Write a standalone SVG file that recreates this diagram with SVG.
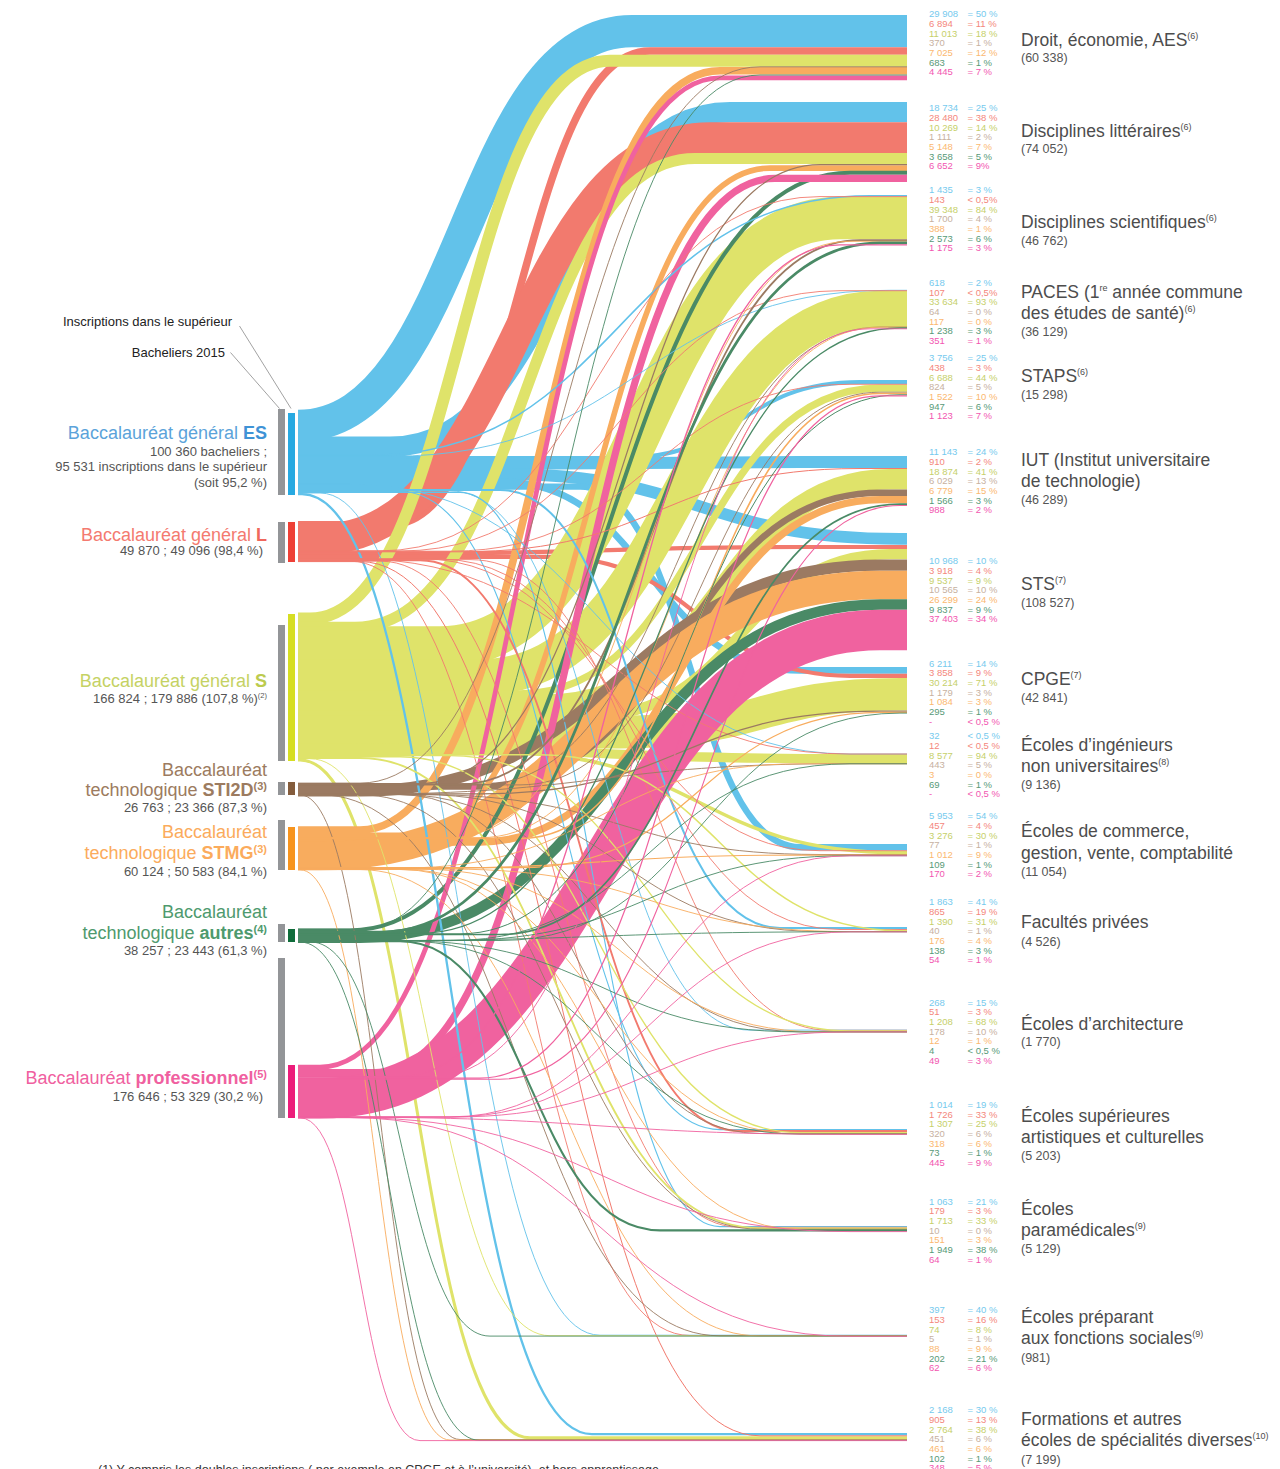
<svg xmlns="http://www.w3.org/2000/svg" width="1280" height="1469" viewBox="0 0 1280 1469">
<style>
.lk{fill:none;stroke-linecap:butt}
.es{stroke:#62c2ea}.l{stroke:#f27a6e}.s{stroke:#dfe36a}.st{stroke:#9b7a62}.sm{stroke:#f8ac5e}.au{stroke:#4a8a66}.pr{stroke:#f0629f}
.t{stroke-width:0.9}
text{font-family:"Liberation Sans",Arial,Helvetica,sans-serif}
.num{font-size:9.5px}
.c1{fill:#76caee}.c2{fill:#f4877c}.c3{fill:#c6d06a}.c4{fill:#c7b19f}.c5{fill:#fbb870}.c6{fill:#589a77}.c7{fill:#f256b0}
.dl{font-size:17.5px;fill:#4d4d4d}
.ds{font-size:12.5px;fill:#555}
.sl{font-size:18px;text-anchor:end}
.ss{font-size:13px;fill:#555;text-anchor:end}
.gb{fill:#939598}
.ld{stroke:#8a8a8a;stroke-width:0.8;fill:none}
</style>
<rect width="1280" height="1469" fill="#ffffff"/>
<g id="connectors" class="lk">
<path class="es" stroke-width="32.3" d="M298 425.8C465 425.8 465 31.2 632 31.2H907"/>
<path class="es" stroke-width="20.2" d="M298 446.7H390C560 446.7 560 112.1 730 112.1H907"/>
<path class="es" stroke-width="4.1" d="M298 458.1H620C740 458.1 740 382 860 382H907"/>
<path class="es" stroke-width="12" d="M298 464.5H400C600 464.5 600 462 800 462H907"/>
<path class="es" stroke-width="11.9" d="M298 474H500C700 474 700 538.9 900 538.9H907"/>
<path class="es" stroke-width="6.7" d="M298 481.4H500C650 481.4 650 670.4 800 670.4H907"/>
<path class="es" stroke-width="6.4" d="M298 486.6H580C690 486.6 690 847.2 800 847.2H907"/>
<path class="l" stroke-width="7.5" d="M298 524.8H390C520 524.8 520 51 650 51H907"/>
<path class="l" stroke-width="30.8" d="M298 539.2H320C515 539.2 515 137.6 710 137.6H907"/>
<path class="l" stroke-width="4.2" d="M298 553.7H400C600 553.7 600 547 800 547H907"/>
<path class="l" stroke-width="4.2" d="M298 556.9H550C700 556.9 700 675.8 850 675.8H907"/>
<path class="s" stroke-width="11.9" d="M298 618.5H310C460 618.5 460 60.7 610 60.7H907"/>
<path class="s" stroke-width="11.1" d="M298 627.2H355C525 627.2 525 158.5 695 158.5H907"/>
<path class="s" stroke-width="42.5" d="M298 647.5H440C640 647.5 640 218 840 218H907"/>
<path class="s" stroke-width="36.3" d="M298 677.3H480C680 677.3 680 308.9 880 308.9H907"/>
<path class="s" stroke-width="7.2" d="M298 693.8H520C700 693.8 700 388.1 880 388.1H907"/>
<path class="s" stroke-width="20.4" d="M298 704.2H550C720 704.2 720 479.2 890 479.2H907"/>
<path class="s" stroke-width="10.3" d="M298 715.8H590C740 715.8 740 554.2 890 554.2H907"/>
<path class="s" stroke-width="32.6" d="M298 732.1H620C760 732.1 760 694.2 900 694.2H907"/>
<path class="s" stroke-width="9.3" d="M298 747.9H350C600 747.9 600 758.7 850 758.7H907"/>
<path class="s" stroke-width="3.5" d="M298 752.8H500C700 752.8 700 852.7 900 852.7H907"/>
<path class="s" stroke-width="3" d="M298 759.9H300C415 759.9 415 1437.8 530 1437.8H907"/>
<path class="st" stroke-width="6.5" d="M298 786.6H480C680 786.6 680 492.7 880 492.7H907"/>
<path class="st" stroke-width="11.4" d="M298 790.9H360C620 790.9 620 565.1 880 565.1H907"/>
<path class="sm" stroke-width="7.6" d="M298 830H360C540 830 540 70.8 720 70.8H907"/>
<path class="sm" stroke-width="5.6" d="M298 835.2H410C590 835.2 590 168.1 770 168.1H907"/>
<path class="sm" stroke-width="7.3" d="M298 842H480C680 842 680 499.6 880 499.6H907"/>
<path class="sm" stroke-width="28.4" d="M298 856H320C600 856 600 585 880 585H907"/>
<path class="au" stroke-width="4" d="M298 930.4H350C600 930.4 600 172.8 850 172.8H907"/>
<path class="au" stroke-width="10.6" d="M298 937.6H360C620 937.6 620 604.5 880 604.5H907"/>
<path class="pr" stroke-width="4.8" d="M298 1067.2H320C520 1067.2 520 77.8 720 77.8H907"/>
<path class="pr" stroke-width="7.2" d="M298 1072.7H375C575 1072.7 575 178.4 775 178.4H907"/>
<path class="pr" stroke-width="40.4" d="M298 1098.2H320C600 1098.2 600 630 880 630H907"/>
<path class="es" stroke-width="1.55" d="M298 455.4H370C620 455.4 620 195.8 870 195.8H907"/>
<path class="es t" d="M298 456.3H390C640 456.3 640 290.3 890 290.3H907"/>
<path class="es t" d="M298 484.1H350C600 484.1 600 754 850 754H907"/>
<path class="es" stroke-width="2" d="M298 490H500C640 490 640 928 780 928H907"/>
<path class="es t" d="M298 490.9H450C600 490.9 600 1030.1 750 1030.1H907"/>
<path class="es" stroke-width="1.1" d="M298 491.5H400C560 491.5 560 1129.6 720 1129.6H907"/>
<path class="es" stroke-width="1.15" d="M298 492.4H460C590 492.4 590 1226.6 720 1226.6H907"/>
<path class="es t" d="M298 493H320C460 493 460 1335.2 600 1335.2H907"/>
<path class="es" stroke-width="2.3" d="M298 494.1H302C447 494.1 447 1434.2 592 1434.2H907"/>
<path class="l t" d="M298 550.9H380C600 550.9 600 196.6 820 196.6H907"/>
<path class="l t" d="M298 551H400C620 551 620 290.7 840 290.7H907"/>
<path class="l t" d="M298 551.2H450C650 551.2 650 384.3 850 384.3H907"/>
<path class="l" stroke-width="1" d="M298 551.8H460C660 551.8 660 468.5 860 468.5H907"/>
<path class="l t" d="M298 558.5H350C600 558.5 600 754 850 754H907"/>
<path class="l t" d="M298 558.7H420C620 558.7 620 850.7 820 850.7H907"/>
<path class="l t" d="M298 559.2H440C640 559.2 640 929.5 840 929.5H907"/>
<path class="l t" d="M298 559.6H470C650 559.6 650 1030.3 830 1030.3H907"/>
<path class="l" stroke-width="1.9" d="M298 560.3H420C580 560.3 580 1131 740 1131H907"/>
<path class="l t" d="M298 561.1H380C560 561.1 560 1227.3 740 1227.3H907"/>
<path class="l t" d="M298 561.2H350C520 561.2 520 1335.5 690 1335.5H907"/>
<path class="l" stroke-width="1" d="M298 561.6H360C560 561.6 560 1435.8 760 1435.8H907"/>
<path class="s" stroke-width="1.5" d="M298 754.7H540C720 754.7 720 930.7 900 930.7H907"/>
<path class="s" stroke-width="1.3" d="M298 755.7H450C650 755.7 650 1031 850 1031H907"/>
<path class="s" stroke-width="1.4" d="M298 756.8H400C600 756.8 600 1132.7 800 1132.7H907"/>
<path class="s" stroke-width="1.85" d="M298 758H360C560 758 560 1228.3 760 1228.3H907"/>
<path class="s t" d="M298 758.7H310C430 758.7 430 1335.7 550 1335.7H907"/>
<path class="st t" d="M298 783.1H360C560 783.1 560 66.8 760 66.8H907"/>
<path class="st" stroke-width="1.2" d="M298 783.5H420C620 783.5 620 164.7 820 164.7H907"/>
<path class="st" stroke-width="1.8" d="M298 784.2H460C660 784.2 660 240.1 860 240.1H907"/>
<path class="st t" d="M298 784.7H480C680 784.7 680 327.1 880 327.1H907"/>
<path class="st t" d="M298 784.9H520C700 784.9 700 392.2 880 392.2H907"/>
<path class="st" stroke-width="1.3" d="M298 793.9H480C680 793.9 680 711.1 880 711.1H907"/>
<path class="st t" d="M298 794.3H350C600 794.3 600 763.6 850 763.6H907"/>
<path class="st t" d="M298 794.5H420C620 794.5 620 854.5 820 854.5H907"/>
<path class="st t" d="M298 794.5H420C620 794.5 620 931.5 820 931.5H907"/>
<path class="st t" d="M298 794.5H400C600 794.5 600 1031.8 800 1031.8H907"/>
<path class="st t" d="M298 794.7H400C580 794.7 580 1133.5 760 1133.5H907"/>
<path class="st t" d="M298 794.8H360C560 794.8 560 1229.2 760 1229.2H907"/>
<path class="st t" d="M298 794.8H320C520 794.8 520 1335.8 720 1335.8H907"/>
<path class="st t" d="M298 794.9H300C380 794.9 380 1439.5 460 1439.5H907"/>
<path class="sm t" d="M298 837.5H450C650 837.5 650 241.3 850 241.3H907"/>
<path class="sm t" d="M298 837.7H480C680 837.7 680 327.2 880 327.2H907"/>
<path class="sm" stroke-width="1.6" d="M298 838.4H520C700 838.4 700 393.5 880 393.5H907"/>
<path class="sm" stroke-width="1.2" d="M298 867.7H520C700 867.7 700 712.4 880 712.4H907"/>
<path class="sm t" d="M298 868.1H400C600 868.1 600 763.8 800 763.8H907"/>
<path class="sm" stroke-width="1.1" d="M298 868.6H400C600 868.6 600 855.1 800 855.1H907"/>
<path class="sm t" d="M298 869.1H450C650 869.1 650 931.6 850 931.6H907"/>
<path class="sm t" d="M298 869.1H420C620 869.1 620 1031.9 820 1031.9H907"/>
<path class="sm t" d="M298 869.3H400C600 869.3 600 1133.9 800 1133.9H907"/>
<path class="sm t" d="M298 869.5H400C600 869.5 600 1229.3 800 1229.3H907"/>
<path class="sm t" d="M298 869.6H360C560 869.6 560 1335.9 760 1335.9H907"/>
<path class="sm t" d="M298 869.8H300C375 869.8 375 1440 450 1440H907"/>
<path class="au t" d="M298 929.2H360C560 929.2 560 75 760 75H907"/>
<path class="au" stroke-width="2.8" d="M298 932.1H380C630 932.1 630 242.9 880 242.9H907"/>
<path class="au" stroke-width="1.3" d="M298 933.2H420C660 933.2 660 328 900 328H907"/>
<path class="au" stroke-width="1" d="M298 933.8H460C680 933.8 680 394.8 900 394.8H907"/>
<path class="au" stroke-width="1.7" d="M298 934.5H500C700 934.5 700 504.1 900 504.1H907"/>
<path class="au t" d="M298 940.5H500C700 940.5 700 713.1 900 713.1H907"/>
<path class="au t" d="M298 940.6H450C650 940.6 650 763.8 850 763.8H907"/>
<path class="au t" d="M298 940.6H450C650 940.6 650 855.7 850 855.7H907"/>
<path class="au t" d="M298 940.7H350C600 940.7 600 931.8 850 931.8H907"/>
<path class="au t" d="M298 940.7H400C600 940.7 600 1031.9 800 1031.9H907"/>
<path class="au t" d="M298 940.7H400C600 940.7 600 1134.1 800 1134.1H907"/>
<path class="au" stroke-width="2.1" d="M298 941.3H400C530 941.3 530 1230.4 660 1230.4H907"/>
<path class="au t" d="M298 941.9H310C400 941.9 400 1336.1 490 1336.1H907"/>
<path class="au t" d="M298 942H300C390 942 390 1440.4 480 1440.4H907"/>
<path class="pr" stroke-width="1.3" d="M298 1076.6H400C620 1076.6 620 244.9 840 244.9H907"/>
<path class="pr t" d="M298 1077.4H430C650 1077.4 650 328.8 870 328.8H907"/>
<path class="pr" stroke-width="1.2" d="M298 1078.1H480C680 1078.1 680 395.9 880 395.9H907"/>
<path class="pr" stroke-width="1.1" d="M298 1079.2H500C700 1079.2 700 505.5 900 505.5H907"/>
<path class="pr t" d="M298 1116.9H450C650 1116.9 650 855.8 850 855.8H907"/>
<path class="pr t" d="M298 1117H450C650 1117 650 931.9 850 931.9H907"/>
<path class="pr t" d="M298 1117.1H450C650 1117.1 650 1031.9 850 1031.9H907"/>
<path class="pr t" d="M298 1117.3H350C600 1117.3 600 1134.4 850 1134.4H907"/>
<path class="pr t" d="M298 1117.6H350C600 1117.6 600 1231.6 850 1231.6H907"/>
<path class="pr t" d="M298 1117.6H350C600 1117.6 600 1336.3 850 1336.3H907"/>
<path class="pr t" d="M298 1117.8H300C360 1117.8 360 1440.6 420 1440.6H907"/>
</g>

<g id="legend-top">
<text x="232" y="325.5" font-size="13" fill="#222" text-anchor="end">Inscriptions dans le supérieur</text>
<text x="225" y="356.5" font-size="13" fill="#222" text-anchor="end">Bacheliers 2015</text>
<path class="ld" d="M239.5 326L291 408.5"/>
<path class="ld" d="M230.5 352.5L279.5 408.5"/>
</g>

<g id="src-es">
<rect class="gb" x="278" y="409" width="7" height="86"/>
<rect x="288" y="413" width="7" height="82" fill="#27a9e1"/>
<text class="sl" x="267" y="439.3" fill="#5ba3da">Baccalauréat général <tspan font-weight="bold" fill="#3f93d6">ES</tspan></text>
<text class="ss" x="267" y="455.7">100 360 bacheliers ;</text>
<text class="ss" x="267" y="470.7">95 531 inscriptions dans le supérieur</text>
<text class="ss" x="267" y="486.7">(soit 95,2 %)</text>
</g>
<g id="src-l">
<rect class="gb" x="278" y="522" width="7" height="41"/>
<rect x="288" y="522" width="7" height="40" fill="#ee4036"/>
<text class="sl" x="267" y="540.5" fill="#f47a70">Baccalauréat général <tspan font-weight="bold" fill="#f0675d">L</tspan></text>
<text class="ss" x="263" y="554.5">49 870 ; 49 096 (98,4 %)</text>
</g>
<g id="src-s">
<rect class="gb" x="278" y="625" width="7" height="136"/>
<rect x="288" y="614" width="7" height="147" fill="#d6de23"/>
<text class="sl" x="267" y="687.3" fill="#c5d264">Baccalauréat général <tspan font-weight="bold" fill="#bccb4e">S</tspan></text>
<text class="ss" x="267" y="703"><tspan>166 824 ; 179 886 (107,8 %)</tspan><tspan font-size="7.5" dy="-5">(2)</tspan></text>
</g>
<g id="src-sti2d">
<rect class="gb" x="278" y="782" width="7" height="13"/>
<rect x="288" y="782" width="7" height="13" fill="#845c3c"/>
<text class="sl" x="267" y="775.7" fill="#9c7b60">Baccalauréat</text>
<text class="sl" x="267" y="796" fill="#9c7b60">technologique <tspan font-weight="bold">STI2D</tspan><tspan font-weight="bold" font-size="11" dy="-6">(3)</tspan></text>
<text class="ss" x="267" y="812">26 763 ; 23 366 (87,3 %)</text>
</g>
<g id="src-stmg">
<rect class="gb" x="278" y="820" width="7" height="50"/>
<rect x="288" y="827" width="7" height="43" fill="#f7941e"/>
<text class="sl" x="267" y="838.3" fill="#fbab5c">Baccalauréat</text>
<text class="sl" x="267" y="859.3" fill="#fbab5c">technologique <tspan font-weight="bold">STMG</tspan><tspan font-weight="bold" font-size="11" dy="-6">(3)</tspan></text>
<text class="ss" x="267" y="875.5">60 124 ; 50 583 (84,1 %)</text>
</g>
<g id="src-autres">
<rect class="gb" x="278" y="924" width="7" height="18"/>
<rect x="288" y="929" width="7" height="13" fill="#0f6c3a"/>
<text class="sl" x="267" y="917.7" fill="#4e9a6e">Baccalauréat</text>
<text class="sl" x="267" y="939.3" fill="#4e9a6e">technologique <tspan font-weight="bold">autres</tspan><tspan font-weight="bold" font-size="11" dy="-6">(4)</tspan></text>
<text class="ss" x="267" y="955">38 257 ; 23 443 (61,3 %)</text>
</g>
<g id="src-pro">
<rect class="gb" x="278" y="958" width="7" height="160"/>
<rect x="288" y="1065" width="7" height="53" fill="#ec1c7a"/>
<text class="sl" x="267" y="1083.5" fill="#f060a0">Baccalauréat <tspan font-weight="bold">professionnel</tspan><tspan font-weight="bold" font-size="11" dy="-6">(5)</tspan></text>
<text class="ss" x="263" y="1100.5">176 646 ; 53 329 (30,2 %)</text>
</g>

<g id="dst-droit">
<g class="num">
<text class="c1" y="17.4"><tspan x="929">29 908</tspan><tspan x="967.5">= 50 %</tspan></text>
<text class="c2" y="27.1"><tspan x="929">6 894</tspan><tspan x="967.5">= 11 %</tspan></text>
<text class="c3" y="36.7"><tspan x="929">11 013</tspan><tspan x="967.5">= 18 %</tspan></text>
<text class="c4" y="46.4"><tspan x="929">370</tspan><tspan x="967.5">= 1 %</tspan></text>
<text class="c5" y="56"><tspan x="929">7 025</tspan><tspan x="967.5">= 12 %</tspan></text>
<text class="c6" y="65.7"><tspan x="929">683</tspan><tspan x="967.5">= 1 %</tspan></text>
<text class="c7" y="75.3"><tspan x="929">4 445</tspan><tspan x="967.5">= 7 %</tspan></text>
</g>
<text class="dl" x="1021" y="46">Droit, économie, AES<tspan font-size="9" dy="-7">(6)</tspan></text>
<text class="ds" x="1021" y="61.5">(60 338)</text>
</g>

<g id="dst-litt">
<g class="num">
<text class="c1" y="111.4"><tspan x="929">18 734</tspan><tspan x="967.5">= 25 %</tspan></text>
<text class="c2" y="121.1"><tspan x="929">28 480</tspan><tspan x="967.5">= 38 %</tspan></text>
<text class="c3" y="130.7"><tspan x="929">10 269</tspan><tspan x="967.5">= 14 %</tspan></text>
<text class="c4" y="140.4"><tspan x="929">1 111</tspan><tspan x="967.5">= 2 %</tspan></text>
<text class="c5" y="150"><tspan x="929">5 148</tspan><tspan x="967.5">= 7 %</tspan></text>
<text class="c6" y="159.7"><tspan x="929">3 658</tspan><tspan x="967.5">= 5 %</tspan></text>
<text class="c7" y="169.3"><tspan x="929">6 652</tspan><tspan x="967.5">= 9%</tspan></text>
</g>
<text class="dl" x="1021" y="137">Disciplines littéraires<tspan font-size="9" dy="-7">(6)</tspan></text>
<text class="ds" x="1021" y="152.5">(74 052)</text>
</g>

<g id="dst-sci">
<g class="num">
<text class="c1" y="193.4"><tspan x="929">1 435</tspan><tspan x="967.5">= 3 %</tspan></text>
<text class="c2" y="203.1"><tspan x="929">143</tspan><tspan x="967.5">&lt; 0,5%</tspan></text>
<text class="c3" y="212.7"><tspan x="929">39 348</tspan><tspan x="967.5">= 84 %</tspan></text>
<text class="c4" y="222.4"><tspan x="929">1 700</tspan><tspan x="967.5">= 4 %</tspan></text>
<text class="c5" y="232"><tspan x="929">388</tspan><tspan x="967.5">= 1 %</tspan></text>
<text class="c6" y="241.7"><tspan x="929">2 573</tspan><tspan x="967.5">= 6 %</tspan></text>
<text class="c7" y="251.3"><tspan x="929">1 175</tspan><tspan x="967.5">= 3 %</tspan></text>
</g>
<text class="dl" x="1021" y="228">Disciplines scientifiques<tspan font-size="9" dy="-7">(6)</tspan></text>
<text class="ds" x="1021" y="244.5">(46 762)</text>
</g>

<g id="dst-paces">
<g class="num">
<text class="c1" y="286"><tspan x="929">618</tspan><tspan x="967.5">= 2 %</tspan></text>
<text class="c2" y="295.7"><tspan x="929">107</tspan><tspan x="967.5">&lt; 0,5%</tspan></text>
<text class="c3" y="305.3"><tspan x="929">33 634</tspan><tspan x="967.5">= 93 %</tspan></text>
<text class="c4" y="315"><tspan x="929">64</tspan><tspan x="967.5">= 0 %</tspan></text>
<text class="c5" y="324.6"><tspan x="929">117</tspan><tspan x="967.5">= 0 %</tspan></text>
<text class="c6" y="334.3"><tspan x="929">1 238</tspan><tspan x="967.5">= 3 %</tspan></text>
<text class="c7" y="343.9"><tspan x="929">351</tspan><tspan x="967.5">= 1 %</tspan></text>
</g>
<text class="dl" x="1021" y="298">PACES (1<tspan font-size="9" dy="-7">re</tspan><tspan dy="7"> année commune</tspan></text>
<text class="dl" x="1021" y="319">des études de santé)<tspan font-size="9" dy="-7">(6)</tspan></text>
<text class="ds" x="1021" y="335.5">(36 129)</text>
</g>

<g id="dst-staps">
<g class="num">
<text class="c1" y="361.4"><tspan x="929">3 756</tspan><tspan x="967.5">= 25 %</tspan></text>
<text class="c2" y="371.1"><tspan x="929">438</tspan><tspan x="967.5">= 3 %</tspan></text>
<text class="c3" y="380.7"><tspan x="929">6 688</tspan><tspan x="967.5">= 44 %</tspan></text>
<text class="c4" y="390.4"><tspan x="929">824</tspan><tspan x="967.5">= 5 %</tspan></text>
<text class="c5" y="400"><tspan x="929">1 522</tspan><tspan x="967.5">= 10 %</tspan></text>
<text class="c6" y="409.7"><tspan x="929">947</tspan><tspan x="967.5">= 6 %</tspan></text>
<text class="c7" y="419.3"><tspan x="929">1 123</tspan><tspan x="967.5">= 7 %</tspan></text>
</g>
<text class="dl" x="1021" y="382">STAPS<tspan font-size="9" dy="-7">(6)</tspan></text>
<text class="ds" x="1021" y="398.5">(15 298)</text>
</g>

<g id="dst-iut">
<g class="num">
<text class="c1" y="455.4"><tspan x="929">11 143</tspan><tspan x="967.5">= 24 %</tspan></text>
<text class="c2" y="465.1"><tspan x="929">910</tspan><tspan x="967.5">= 2 %</tspan></text>
<text class="c3" y="474.7"><tspan x="929">18 874</tspan><tspan x="967.5">= 41 %</tspan></text>
<text class="c4" y="484.4"><tspan x="929">6 029</tspan><tspan x="967.5">= 13 %</tspan></text>
<text class="c5" y="494"><tspan x="929">6 779</tspan><tspan x="967.5">= 15 %</tspan></text>
<text class="c6" y="503.7"><tspan x="929">1 566</tspan><tspan x="967.5">= 3 %</tspan></text>
<text class="c7" y="513.3"><tspan x="929">988</tspan><tspan x="967.5">= 2 %</tspan></text>
</g>
<text class="dl" x="1021" y="466">IUT (Institut universitaire</text>
<text class="dl" x="1021" y="487">de technologie)</text>
<text class="ds" x="1021" y="503.5">(46 289)</text>
</g>

<g id="dst-sts">
<g class="num">
<text class="c1" y="564.4"><tspan x="929">10 968</tspan><tspan x="967.5">= 10 %</tspan></text>
<text class="c2" y="574.1"><tspan x="929">3 918</tspan><tspan x="967.5">= 4 %</tspan></text>
<text class="c3" y="583.7"><tspan x="929">9 537</tspan><tspan x="967.5">= 9 %</tspan></text>
<text class="c4" y="593.4"><tspan x="929">10 565</tspan><tspan x="967.5">= 10 %</tspan></text>
<text class="c5" y="603"><tspan x="929">26 299</tspan><tspan x="967.5">= 24 %</tspan></text>
<text class="c6" y="612.7"><tspan x="929">9 837</tspan><tspan x="967.5">= 9 %</tspan></text>
<text class="c7" y="622.3"><tspan x="929">37 403</tspan><tspan x="967.5">= 34 %</tspan></text>
</g>
<text class="dl" x="1021" y="590">STS<tspan font-size="9" dy="-7">(7)</tspan></text>
<text class="ds" x="1021" y="606.5">(108 527)</text>
</g>

<g id="dst-cpge">
<g class="num">
<text class="c1" y="666.7"><tspan x="929">6 211</tspan><tspan x="967.5">= 14 %</tspan></text>
<text class="c2" y="676.4"><tspan x="929">3 858</tspan><tspan x="967.5">= 9 %</tspan></text>
<text class="c3" y="686"><tspan x="929">30 214</tspan><tspan x="967.5">= 71 %</tspan></text>
<text class="c4" y="695.7"><tspan x="929">1 179</tspan><tspan x="967.5">= 3 %</tspan></text>
<text class="c5" y="705.3"><tspan x="929">1 084</tspan><tspan x="967.5">= 3 %</tspan></text>
<text class="c6" y="715"><tspan x="929">295</tspan><tspan x="967.5">= 1 %</tspan></text>
<text class="c7" y="724.6"><tspan x="929">-</tspan><tspan x="967.5">&lt; 0,5 %</tspan></text>
</g>
<text class="dl" x="1021" y="685">CPGE<tspan font-size="9" dy="-7">(7)</tspan></text>
<text class="ds" x="1021" y="701.5">(42 841)</text>
</g>

<g id="dst-ing">
<g class="num">
<text class="c1" y="739.4"><tspan x="929">32</tspan><tspan x="967.5">&lt; 0,5 %</tspan></text>
<text class="c2" y="749.1"><tspan x="929">12</tspan><tspan x="967.5">&lt; 0,5 %</tspan></text>
<text class="c3" y="758.7"><tspan x="929">8 577</tspan><tspan x="967.5">= 94 %</tspan></text>
<text class="c4" y="768.4"><tspan x="929">443</tspan><tspan x="967.5">= 5 %</tspan></text>
<text class="c5" y="778"><tspan x="929">3</tspan><tspan x="967.5">= 0 %</tspan></text>
<text class="c6" y="787.7"><tspan x="929">69</tspan><tspan x="967.5">= 1 %</tspan></text>
<text class="c7" y="797.3"><tspan x="929">-</tspan><tspan x="967.5">&lt; 0,5 %</tspan></text>
</g>
<text class="dl" x="1021" y="751">Écoles d’ingénieurs</text>
<text class="dl" x="1021" y="772">non universitaires<tspan font-size="9" dy="-7">(8)</tspan></text>
<text class="ds" x="1021" y="788.5">(9 136)</text>
</g>

<g id="dst-com">
<g class="num">
<text class="c1" y="819.4"><tspan x="929">5 953</tspan><tspan x="967.5">= 54 %</tspan></text>
<text class="c2" y="829.1"><tspan x="929">457</tspan><tspan x="967.5">= 4 %</tspan></text>
<text class="c3" y="838.7"><tspan x="929">3 276</tspan><tspan x="967.5">= 30 %</tspan></text>
<text class="c4" y="848.4"><tspan x="929">77</tspan><tspan x="967.5">= 1 %</tspan></text>
<text class="c5" y="858"><tspan x="929">1 012</tspan><tspan x="967.5">= 9 %</tspan></text>
<text class="c6" y="867.7"><tspan x="929">109</tspan><tspan x="967.5">= 1 %</tspan></text>
<text class="c7" y="877.3"><tspan x="929">170</tspan><tspan x="967.5">= 2 %</tspan></text>
</g>
<text class="dl" x="1021" y="837">Écoles de commerce,</text>
<text class="dl" x="1021" y="859">gestion, vente, comptabilité</text>
<text class="ds" x="1021" y="875.5">(11 054)</text>
</g>

<g id="dst-fac">
<g class="num">
<text class="c1" y="905.4"><tspan x="929">1 863</tspan><tspan x="967.5">= 41 %</tspan></text>
<text class="c2" y="915.1"><tspan x="929">865</tspan><tspan x="967.5">= 19 %</tspan></text>
<text class="c3" y="924.7"><tspan x="929">1 390</tspan><tspan x="967.5">= 31 %</tspan></text>
<text class="c4" y="934.4"><tspan x="929">40</tspan><tspan x="967.5">= 1 %</tspan></text>
<text class="c5" y="944"><tspan x="929">176</tspan><tspan x="967.5">= 4 %</tspan></text>
<text class="c6" y="953.7"><tspan x="929">138</tspan><tspan x="967.5">= 3 %</tspan></text>
<text class="c7" y="963.3"><tspan x="929">54</tspan><tspan x="967.5">= 1 %</tspan></text>
</g>
<text class="dl" x="1021" y="928">Facultés privées</text>
<text class="ds" x="1021" y="945.5">(4 526)</text>
</g>

<g id="dst-archi">
<g class="num">
<text class="c1" y="1005.7"><tspan x="929">268</tspan><tspan x="967.5">= 15 %</tspan></text>
<text class="c2" y="1015.4"><tspan x="929">51</tspan><tspan x="967.5">= 3 %</tspan></text>
<text class="c3" y="1025"><tspan x="929">1 208</tspan><tspan x="967.5">= 68 %</tspan></text>
<text class="c4" y="1034.7"><tspan x="929">178</tspan><tspan x="967.5">= 10 %</tspan></text>
<text class="c5" y="1044.3"><tspan x="929">12</tspan><tspan x="967.5">= 1 %</tspan></text>
<text class="c6" y="1054"><tspan x="929">4</tspan><tspan x="967.5">&lt; 0,5 %</tspan></text>
<text class="c7" y="1063.6"><tspan x="929">49</tspan><tspan x="967.5">= 3 %</tspan></text>
</g>
<text class="dl" x="1021" y="1030">Écoles d’architecture</text>
<text class="ds" x="1021" y="1045.5">(1 770)</text>
</g>

<g id="dst-artist">
<g class="num">
<text class="c1" y="1108"><tspan x="929">1 014</tspan><tspan x="967.5">= 19 %</tspan></text>
<text class="c2" y="1117.7"><tspan x="929">1 726</tspan><tspan x="967.5">= 33 %</tspan></text>
<text class="c3" y="1127.3"><tspan x="929">1 307</tspan><tspan x="967.5">= 25 %</tspan></text>
<text class="c4" y="1137"><tspan x="929">320</tspan><tspan x="967.5">= 6 %</tspan></text>
<text class="c5" y="1146.6"><tspan x="929">318</tspan><tspan x="967.5">= 6 %</tspan></text>
<text class="c6" y="1156.3"><tspan x="929">73</tspan><tspan x="967.5">= 1 %</tspan></text>
<text class="c7" y="1165.9"><tspan x="929">445</tspan><tspan x="967.5">= 9 %</tspan></text>
</g>
<text class="dl" x="1021" y="1122">Écoles supérieures</text>
<text class="dl" x="1021" y="1143">artistiques et culturelles</text>
<text class="ds" x="1021" y="1159.5">(5 203)</text>
</g>

<g id="dst-param">
<g class="num">
<text class="c1" y="1204.7"><tspan x="929">1 063</tspan><tspan x="967.5">= 21 %</tspan></text>
<text class="c2" y="1214.4"><tspan x="929">179</tspan><tspan x="967.5">= 3 %</tspan></text>
<text class="c3" y="1224"><tspan x="929">1 713</tspan><tspan x="967.5">= 33 %</tspan></text>
<text class="c4" y="1233.7"><tspan x="929">10</tspan><tspan x="967.5">= 0 %</tspan></text>
<text class="c5" y="1243.3"><tspan x="929">151</tspan><tspan x="967.5">= 3 %</tspan></text>
<text class="c6" y="1253"><tspan x="929">1 949</tspan><tspan x="967.5">= 38 %</tspan></text>
<text class="c7" y="1262.6"><tspan x="929">64</tspan><tspan x="967.5">= 1 %</tspan></text>
</g>
<text class="dl" x="1021" y="1215">Écoles</text>
<text class="dl" x="1021" y="1236">paramédicales<tspan font-size="9" dy="-7">(9)</tspan></text>
<text class="ds" x="1021" y="1252.5">(5 129)</text>
</g>

<g id="dst-soc">
<g class="num">
<text class="c1" y="1313.4"><tspan x="929">397</tspan><tspan x="967.5">= 40 %</tspan></text>
<text class="c2" y="1323.1"><tspan x="929">153</tspan><tspan x="967.5">= 16 %</tspan></text>
<text class="c3" y="1332.7"><tspan x="929">74</tspan><tspan x="967.5">= 8 %</tspan></text>
<text class="c4" y="1342.4"><tspan x="929">5</tspan><tspan x="967.5">= 1 %</tspan></text>
<text class="c5" y="1352"><tspan x="929">88</tspan><tspan x="967.5">= 9 %</tspan></text>
<text class="c6" y="1361.7"><tspan x="929">202</tspan><tspan x="967.5">= 21 %</tspan></text>
<text class="c7" y="1371.3"><tspan x="929">62</tspan><tspan x="967.5">= 6 %</tspan></text>
</g>
<text class="dl" x="1021" y="1323">Écoles préparant</text>
<text class="dl" x="1021" y="1344">aux fonctions sociales<tspan font-size="9" dy="-7">(9)</tspan></text>
<text class="ds" x="1021" y="1361.5">(981)</text>
</g>

<g id="dst-form">
<g class="num">
<text class="c1" y="1413.4"><tspan x="929">2 168</tspan><tspan x="967.5">= 30 %</tspan></text>
<text class="c2" y="1423.1"><tspan x="929">905</tspan><tspan x="967.5">= 13 %</tspan></text>
<text class="c3" y="1432.7"><tspan x="929">2 764</tspan><tspan x="967.5">= 38 %</tspan></text>
<text class="c4" y="1442.4"><tspan x="929">451</tspan><tspan x="967.5">= 6 %</tspan></text>
<text class="c5" y="1452"><tspan x="929">461</tspan><tspan x="967.5">= 6 %</tspan></text>
<text class="c6" y="1461.7"><tspan x="929">102</tspan><tspan x="967.5">= 1 %</tspan></text>
<text class="c7" y="1471.3"><tspan x="929">348</tspan><tspan x="967.5">= 5 %</tspan></text>
</g>
<text class="dl" x="1021" y="1425">Formations et autres</text>
<text class="dl" x="1021" y="1446">écoles de spécialités diverses<tspan font-size="9" dy="-7">(10)</tspan></text>
<text class="ds" x="1021" y="1463.5">(7 199)</text>
</g>

<text id="footnote" x="98" y="1473.5" font-family="'Liberation Serif',serif" font-size="12.5" fill="#333">(1) Y compris les doubles inscriptions ( par exemple en CPGE et à l’université), et hors apprentissage.</text>
</svg>
